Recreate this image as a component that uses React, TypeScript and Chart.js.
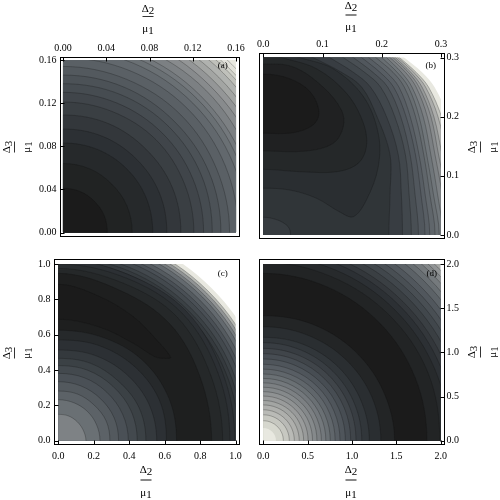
import React, { useEffect, useRef } from "react";
import { Chart, registerables } from "chart.js";

Chart.register(...registerables);

const FONT = "'Liberation Serif'";

// ---- tick values and labels
const aTicks = [0, 0.04, 0.08, 0.12, 0.16];
const aTickLabels = ["0.00", "0.04", "0.08", "0.12", "0.16"];
const bTicks = [0, 0.1, 0.2, 0.3];
const bTickLabels = ["0.0", "0.1", "0.2", "0.3"];
const cTicks = [0, 0.2, 0.4, 0.6, 0.8, 1];
const cTickLabels = ["0.0", "0.2", "0.4", "0.6", "0.8", "1.0"];
const dTicks = [0, 0.5, 1, 1.5, 2];
const dTickLabels = ["0.0", "0.5", "1.0", "1.5", "2.0"];

// ---- contour lines: flat x,y lists, topmost band first
const aContours = [
  [0,.041,.016,.038,.029,.029,.038,.016,.041,0],
  [0,.064,.025,.059,.045,.045,.059,.025,.064,0],
  [0,.083,.032,.077,.059,.059,.077,.032,.083,0],
  [0,.096,.037,.089,.068,.068,.089,.037,.096,0],
  [0,.109,.042,.101,.077,.077,.101,.042,.109,0],
  [0,.121,.046,.112,.086,.086,.112,.046,.121,0],
  [0,.130,.050,.120,.092,.092,.120,.050,.130,0],
  [0,.138,.053,.128,.098,.098,.128,.053,.138,0],
  [0,.146,.056,.135,.103,.103,.135,.056,.146,0],
  [0,.154,.059,.142,.109,.109,.142,.059,.154,0],
  [0,.162,.062,.150,.115,.115,.150,.062,.162,0],
  [0,.170,.065,.157,.120,.120,.157,.065,.170,0],
  [0,.175,.067,.162,.124,.124,.162,.067,.175,0],
  [0,.180,.069,.166,.127,.127,.166,.069,.180,0],
  [0,.186,.071,.172,.132,.132,.172,.071,.186,0],
  [0,.193,.074,.178,.136,.136,.178,.074,.193,0],
  [0,.198,.076,.183,.140,.140,.183,.076,.198,0],
  [0,.204,.078,.188,.144,.144,.188,.078,.204,0],
  [0,.209,.080,.193,.148,.148,.193,.080,.209,0],
  [0,.213,.082,.197,.151,.151,.197,.082,.213,0],
  [0,.217,.083,.201,.153,.153,.201,.083,.217,0],
  [0,.221,.085,.204,.156,.156,.204,.085,.221,0],
];
const aShades = [0,.06,.11,.17,.22,.27,.31,.35,.39,.43,.47,.51,.55,.59,.63,.68,.73,.79,.84,.89,.94,.98];
const aBase = 1;

const bContours = [
  [0,.03,.025,.025,.042,.014,.046,0],
  [0,.272,.045,.264,.079,.242,.094,.208,.084,.186,.051,.173,0,.172],
  [0,.289,.051,.284,.101,.25,.132,.211,.135,.183,.118,.155,.073,.142,0,.142],
  [.031,.3,.09,.281,.141,.239,.169,.189,.174,.149,.16,.121,.124,.107,.062,.107,0,.111],
  [.062,.3,.118,.281,.169,.234,.194,.172,.194,.115,.174,.059,.152,.031,.129,.039,.09,.062,.045,.076,0,.079],
  [.084,.3,.132,.275,.166,.25,.192,.2,.214,.135,.214,.07,.212,0],
  [.112,.3,.152,.275,.181,.25,.208,.2,.228,.135,.233,.07,.235,0],
  [.135,.3,.171,.275,.198,.25,.222,.2,.24,.135,.246,.07,.25,0],
  [.152,.3,.185,.275,.21,.25,.232,.2,.248,.135,.256,.07,.262,0],
  [.166,.3,.197,.275,.22,.25,.241,.2,.257,.135,.266,.07,.273,0],
  [.178,.3,.208,.275,.229,.25,.248,.2,.263,.135,.273,.07,.281,0],
  [.19,.3,.219,.275,.238,.25,.257,.2,.271,.135,.281,.07,.29,0],
  [.20,.3,.226,.275,.245,.25,.263,.2,.276,.135,.287,.07,.297,0],
  [.208,.3,.233,.275,.251,.25,.27,.2,.283,.135,.294,.07,.303,0],
  [.214,.3,.240,.275,.258,.25,.277,.2,.29,.135,.302,.07,.312,0],
  [.219,.3,.245,.275,.263,.25,.283,.2,.296,.135,.309,.07,.32,0],
  [.223,.3,.249,.275,.268,.25,.288,.2,.302,.135,.315,.07,.327,0],
  [.227,.3,.254,.275,.274,.25,.295,.2,.31,.135,.325,.07,.335,0],
  [.23,.3,.258,.275,.279,.25,.301,.2,.318,.135,.335,.07,.345,0],
  [.238,.3,.268,.275,.289,.25,.312,.2,.33,.135,.345,.07,.36,0],
];
const bShades = [.25,0,.05,.10,.15,.20,.26,.32,.37,.42,.46,.50,.54,.58,.63,.68,.74,.82,.90,1];

const cContours = [
  [0,.149,.058,.140,.107,.107,.141,.059,.156,0],
  [0,.232,.09,.214,.165,.165,.216,.09,.235,0],
  [0,.281,.109,.264,.202,.202,.27,.112,.291,0],
  [0,.334,.128,.31,.238,.238,.315,.13,.34,0],
  [0,.381,.148,.356,.274,.274,.363,.15,.395,0],
  [0,.425,.165,.399,.308,.308,.41,.17,.445,0],
  [0,.466,.182,.438,.338,.338,.455,.188,.494,0],
  [0,.513,.2,.485,.38,.38,.51,.21,.555,0],
  [0,.57,.225,.54,.43,.42,.57,.23,.61,0],
  [0,.625,.25,.585,.47,.46,.62,.25,.667,0],
  [0,.885,.235,.815,.423,.702,.555,.57,.633,.472,.602,.466,.545,.475,.423,.551,.235,.642,0,.687],
  [0,.947,.35,.85,.63,.66,.80,.36,.865,0],
  [0,.975,.37,.89,.67,.70,.86,.37,.927,0],
  [0,1.0,.385,.92,.70,.72,.90,.385,.968,0],
  [0,1.03,.395,.94,.72,.735,.925,.39,.996,0],
  [0,1.02,.391,.942,.721,.721,.942,.391,1.02,0],
  [0,1.04,.398,.961,.735,.735,.961,.398,1.04,0],
  [0,1.06,.406,.979,.749,.749,.979,.406,1.06,0],
  [0,1.085,.416,1.003,.767,.767,1.003,.416,1.085,0],
  [0,1.105,.423,1.021,.781,.781,1.021,.423,1.105,0],
  [0,1.127,.432,1.041,.797,.797,1.041,.432,1.127,0],
  [0,1.15,.440,1.063,.813,.813,1.063,.440,1.15,0],
  [0,1.166,.447,1.077,.824,.824,1.077,.447,1.166,0],
  [0,1.182,.453,1.092,.836,.836,1.092,.453,1.182,0],
  [0,1.197,.458,1.106,.846,.846,1.106,.458,1.197,0],
  [0,1.222,.468,1.129,.864,.864,1.129,.468,1.222,0],
];
const cShades = [.64,.55,.48,.43,.38,.33,.28,.23,.17,.11,0,.03,.10,.14,.17,.20,.24,.28,.33,.38,.44,.52,.61,.72,.86,1];

const dContours = [
  [0,.143,.055,.132,.101,.101,.132,.055,.143,0],
  [0,.226,.087,.209,.160,.160,.209,.087,.226,0],
  [0,.293,.112,.271,.207,.207,.271,.112,.293,0],
  [0,.35,.134,.323,.247,.247,.323,.134,.35,0],
  [0,.405,.155,.374,.286,.286,.374,.155,.405,0],
  [0,.455,.174,.420,.322,.322,.420,.174,.455,0],
  [0,.505,.193,.467,.357,.357,.467,.193,.505,0],
  [0,.555,.213,.513,.392,.392,.513,.213,.555,0],
  [0,.605,.232,.559,.428,.428,.559,.232,.605,0],
  [0,.655,.251,.605,.463,.463,.605,.251,.655,0],
  [0,.705,.270,.651,.498,.498,.651,.270,.705,0],
  [0,.755,.289,.698,.534,.534,.698,.289,.755,0],
  [0,.81,.310,.748,.573,.573,.748,.310,.81,0],
  [0,.865,.331,.799,.612,.612,.799,.331,.865,0],
  [0,.925,.354,.855,.654,.654,.855,.354,.925,0],
  [0,.985,.377,.910,.696,.696,.910,.377,.985,0],
  [0,1.045,.400,.966,.739,.739,.966,.400,1.045,0],
  [0,1.11,.425,1.026,.785,.785,1.026,.425,1.11,0],
  [0,1.17,.452,1.09,.84,.84,1.10,.458,1.195,0],
  [0,1.29,.496,1.196,.924,.924,1.22,.505,1.325,0],
  [0,1.415,.547,1.321,1.023,1.023,1.353,.561,1.48,0],
  [0,1.894,.721,1.741,1.322,1.322,1.714,.71,1.845,0],
  [0,2.02,.769,1.857,1.421,1.421,1.857,.769,1.99,0],
  [0,2.096,.802,1.937,1.482,1.482,1.937,.802,2.096,0],
  [0,2.167,.830,2.002,1.532,1.532,2.002,.830,2.167,0],
  [0,2.226,.852,2.057,1.574,1.574,2.057,.852,2.226,0],
  [0,2.296,.879,2.121,1.623,1.623,2.121,.879,2.296,0],
  [0,2.36,.904,2.181,1.669,1.669,2.181,.904,2.36,0],
  [0,2.425,.929,2.241,1.714,1.714,2.241,.929,2.425,0],
  [0,2.49,.954,2.301,1.760,1.760,2.301,.954,2.49,0],
  [0,2.56,.980,2.365,1.810,1.810,2.365,.980,2.56,0],
  [0,2.62,1.003,2.421,1.852,1.852,2.421,1.003,2.62,0],
  [0,2.68,1.026,2.476,1.895,1.895,2.476,1.026,2.68,0],
  [0,2.73,1.046,2.523,1.930,1.930,2.523,1.046,2.73,0],
  [0,2.78,1.065,2.569,1.965,1.965,2.569,1.065,2.78,0],
];
const dShades = [1,.95,.91,.87,.83,.79,.75,.71,.67,.63,.59,.55,.50,.46,.41,.36,.31,.26,.21,.15,.08,0,.07,.12,.17,.22,.27,.32,.37,.42,.48,.54,.60,.66,.72];
const dBase = .8;

// ---- styling
const paletteStops = [
  [27,27,27],[35,37,38],[43,47,50],[53,58,62],[65,71,76],[77,83,89],[92,98,103],
  [108,114,118],[126,130,133],[145,148,149],[165,167,165],[188,189,184],[214,215,206],[232,232,224],
];
const stopAt = [0,.08,.16,.24,.32,.40,.48,.56,.64,.72,.80,.88,.95,1];
function shade(t: number): string {
  let i = 0;
  while (i < stopAt.length - 2 && t > stopAt[i + 1]) i++;
  const f = (t - stopAt[i]) / (stopAt[i + 1] - stopAt[i]);
  const c = paletteStops[i].map((v, k) => Math.round(v + (paletteStops[i + 1][k] - v) * f));
  return `rgb(${c[0]},${c[1]},${c[2]})`;
}

type Frac = { x: number; y: number; rot: boolean; up: number; down: number; w: number; h: number; bar: string; sym: string; sub: string; sym2: string; sub2: string };
type Panel = {
  tag: string; tagX: number; tagY: number;
  frame: [number, number, number, number];
  xr: [number, number]; yr: [number, number];
  top: number; pad: number;
  ticks: number[]; labels: string[];
  xPos: "top" | "bottom"; yPos: "left" | "right";
  contours: number[][]; shades: number[]; base?: number;
  fx: Frac; fy: Frac;
};

const frac = (x: number, y: number, rot: boolean, up: number, down: number, w: number, h: number, bar: string, sub: string): Frac =>
  ({ x, y, rot, up, down, w, h, bar, sym: "Δ", sub, sym2: "μ", sub2: "1" });

const panels: Panel[] = [
  { tag: "(a)", tagX: 222.7, tagY: 66, frame: [60.5, 57.5, 239.5, 236.5],
    xr: [-.0023, .1632], yr: [-.0037, .1623], top: .16, pad: .1,
    ticks: aTicks, labels: aTickLabels, xPos: "top", yPos: "left",
    contours: aContours, shades: aShades, base: aBase,
    fx: frac(148, 16.5, false, 7, 13, 11, 1, "#333", "2"), fy: frac(14.5, 147, true, 7, 13, 11, 1, "#333", "3") },
  { tag: "(b)", tagX: 430.7, tagY: 66, frame: [259.5, 53.5, 444.5, 238.5],
    xr: [-.0064, .3059], yr: [-.0059, .3068], top: .3, pad: .1,
    ticks: bTicks, labels: bTickLabels, xPos: "top", yPos: "right",
    contours: bContours, shades: bShades,
    fx: frac(351, 15, false, 9, 12, 11, 2, "#888", "2"), fy: frac(480.5, 147, true, 8, 13, 11, 1, "#333", "3") },
  { tag: "(c)", tagX: 222.7, tagY: 274, frame: [54.5, 259.5, 239.5, 444.5],
    xr: [-.0214, 1.022], yr: [-.0215, 1.0255], top: 1, pad: .4,
    ticks: cTicks, labels: cTickLabels, xPos: "bottom", yPos: "left",
    contours: cContours, shades: cShades,
    fx: frac(146, 480, false, 10, 13, 11, 2, "#888", "2"), fy: frac(14.5, 353, true, 7, 13, 11, 1, "#333", "3") },
  { tag: "(d)", tagX: 431.7, tagY: 274, frame: [259.5, 259.5, 444.5, 444.5],
    xr: [-.0428, 2.0428], yr: [-.043, 2.051], top: 2, pad: .8,
    ticks: dTicks, labels: dTickLabels, xPos: "bottom", yPos: "right",
    contours: dContours, shades: dShades, base: dBase,
    fx: frac(351, 480, false, 10, 13, 11, 2, "#888", "2"), fy: frac(480.5, 352, true, 8, 13, 11, 1, "#333", "3") },
];

// A contour becomes a closed shape. The picture is symmetric about both axes,
// so each end continues by mirroring its neighbour, which keeps the spline's
// tangent true at the axis; the rest of the outline runs outside the clip.
function toShape(flat: number[], top: number, pad: number) {
  const pts: { x: number; y: number }[] = [];
  for (let i = 0; i < flat.length; i += 2) pts.push({ x: flat[i], y: flat[i + 1] });
  const first = pts[0], second = pts[1];
  const last = pts[pts.length - 1], prev = pts[pts.length - 2];
  const lead = first.x === 0
    ? { x: -second.x, y: second.y }
    : { x: 2 * first.x - second.x, y: 2 * first.y - second.y };
  const out = [lead, ...pts];
  const add = (p: { x: number; y: number }) => { out.push(p, p); };
  if (last.y === 0) {
    add({ x: prev.x, y: -prev.y });
    add({ x: -pad, y: -pad });
  } else {
    add({ x: -prev.x, y: prev.y });
  }
  if (first.x > 0) add({ x: -pad, y: top + pad });
  return out;
}

function drawFraction(ctx: CanvasRenderingContext2D, f: Frac) {
  ctx.save();
  ctx.translate(f.x, f.y);
  if (f.rot) ctx.rotate(-Math.PI / 2);
  ctx.fillStyle = f.bar;
  ctx.fillRect(-f.w / 2, -f.h / 2, f.w, f.h);
  ctx.fillStyle = "#000";
  ctx.textBaseline = "middle";
  ctx.textAlign = "left";
  const line = (a: string, b: string, y: number) => {
    ctx.font = `11px ${FONT}`;
    const wa = ctx.measureText(a).width;
    const wb = ctx.measureText(b).width;
    const x0 = -(wa + wb) / 2;
    ctx.fillText(a, x0, y);
    ctx.fillText(b, x0 + wa, y + 2);
  };
  line(f.sym, f.sub, -f.up);
  line(f.sym2, f.sub2, f.down);
  ctx.restore();
}

function panelPlugin(p: Panel) {
  return {
    id: "panelDecor",
    beforeDatasetsDraw(chart: any) {
      const { ctx, scales } = chart;
      const x0 = scales.x.getPixelForValue(0), x1 = scales.x.getPixelForValue(p.top);
      const y0 = scales.y.getPixelForValue(0), y1 = scales.y.getPixelForValue(p.top);
      ctx.save();
      ctx.beginPath();
      ctx.rect(x0, y1, x1 - x0, y0 - y1);
      ctx.clip();
      if (p.base !== undefined) {
        ctx.fillStyle = shade(p.base);
        ctx.fillRect(x0, y1, x1 - x0, y0 - y1);
      }
    },
    afterDatasetsDraw(chart: any) {
      chart.ctx.restore();
    },
    afterDraw(chart: any) {
      const { ctx, scales, chartArea: a } = chart;
      ctx.save();
      ctx.strokeStyle = "#000";
      ctx.lineWidth = 1;
      ctx.strokeRect(a.left, a.top, a.right - a.left, a.bottom - a.top);
      ctx.beginPath();
      for (const v of p.ticks) {
        const px = Math.round(scales.x.getPixelForValue(v)) + 0.5;
        const py = Math.round(scales.y.getPixelForValue(v)) + 0.5;
        if (p.xPos === "top") { ctx.moveTo(px, a.top); ctx.lineTo(px, a.top + 4); }
        else { ctx.moveTo(px, a.bottom); ctx.lineTo(px, a.bottom - 4); }
        if (p.yPos === "left") { ctx.moveTo(a.left, py); ctx.lineTo(a.left + 4, py); }
        else { ctx.moveTo(a.right, py); ctx.lineTo(a.right - 4, py); }
      }
      ctx.stroke();
      ctx.fillStyle = "#000";
      ctx.font = `9px ${FONT}`;
      ctx.textAlign = "center";
      ctx.textBaseline = "middle";
      ctx.fillText(p.tag, p.tagX, p.tagY);
      drawFraction(ctx, p.fx);
      drawFraction(ctx, p.fy);
      ctx.restore();
    },
  };
}

function PanelChart({ p }: { p: Panel }) {
  const ref = useRef<HTMLCanvasElement>(null);
  useEffect(() => {
    const XH = 16, YW = 24;
    const [l, t, r, b] = p.frame;
    const scaleCommon = (vals: number[], labels: string[], padding: number) => ({
      type: "linear",
      grid: { display: false, drawTicks: false },
      border: { display: false },
      afterBuildTicks: (axis: any) => { axis.ticks = vals.map((value) => ({ value })); },
      ticks: {
        autoSkip: false, maxRotation: 0, minRotation: 0, color: "#000", padding,
        font: { family: "Liberation Serif", size: 10 },
        callback: (_v: any, i: number) => labels[i],
      },
    });
    const chart = new Chart(ref.current as HTMLCanvasElement, {
      type: "scatter",
      data: {
        datasets: p.contours.map((c, i) => ({
          data: toShape(c, p.top, p.pad),
          showLine: true,
          fill: "shape",
          backgroundColor: shade(p.shades[i]),
          borderColor: "rgba(15,15,15,0.32)",
          borderWidth: p.shades[i] === 1 ? 0 : 0.8,
          tension: 0.35,
          capBezierPoints: false,
          pointRadius: 0,
          pointHoverRadius: 0,
        })),
      } as any,
      plugins: [panelPlugin(p)],
      options: {
        animation: false,
        responsive: false,
        events: [],
        layout: {
          padding: {
            left: p.yPos === "left" ? l - YW : l,
            right: p.yPos === "right" ? 500 - r - YW : 500 - r,
            top: p.xPos === "top" ? t - XH : t,
            bottom: p.xPos === "bottom" ? 500 - b - XH : 500 - b,
          },
        },
        plugins: { legend: { display: false }, tooltip: { enabled: false }, title: { display: false } },
        scales: {
          x: { ...scaleCommon(p.ticks, p.labels, p.xPos === "top" ? 3 : 6), position: p.xPos, min: p.xr[0], max: p.xr[1],
               afterFit: (s: any) => { s.height = XH; } },
          y: { ...scaleCommon(p.ticks, p.labels, p.yPos === "left" ? 4 : 2), position: p.yPos, min: p.yr[0], max: p.yr[1],
               afterFit: (s: any) => { s.width = YW; } },
        },
      } as any,
    });
    return () => chart.destroy();
  }, [p]);
  return <canvas ref={ref} width={500} height={500} style={{ position: "absolute", left: 0, top: 0, width: 500, height: 500 }} />;
}

export default function App() {
  return (
    <div style={{ position: "absolute", left: 0, top: 0, width: 500, height: 500, background: "#fff" }}>
      {panels.map((p) => <PanelChart key={p.tag} p={p} />)}
    </div>
  );
}
